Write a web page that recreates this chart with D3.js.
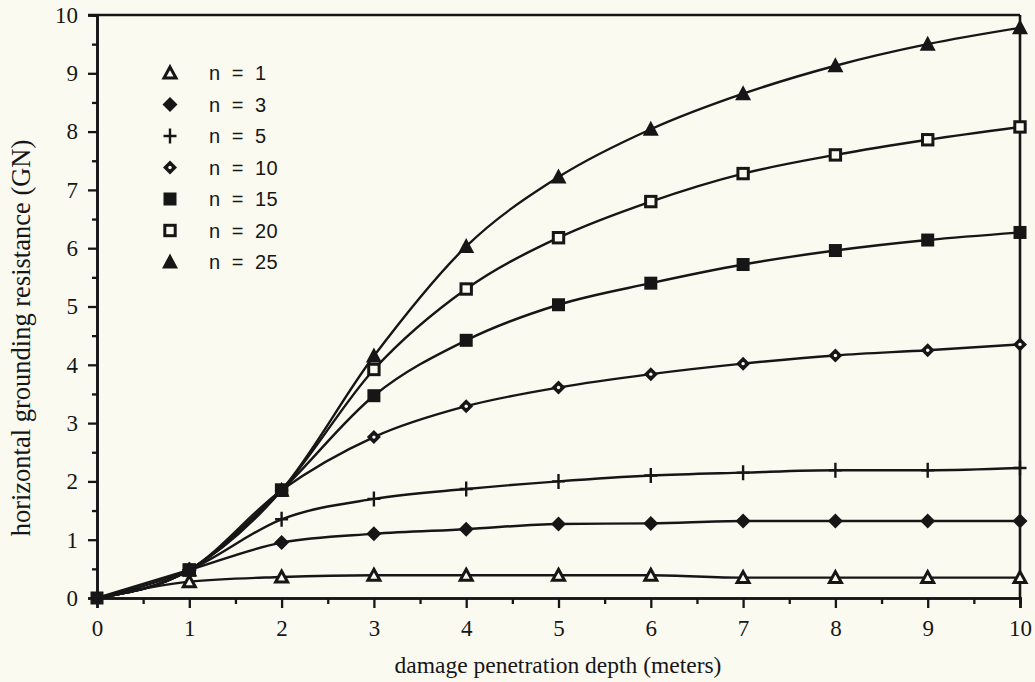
<!DOCTYPE html>
<html>
<head>
<meta charset="utf-8">
<script src="https://cdn.jsdelivr.net/npm/d3@7"></script>
<style>
  html, body { margin: 0; padding: 0; background: #fbfaf1; }
  svg { display: block; }
</style>
</head>
<body>
<svg id="chart" width="1035" height="682"></svg>
<script>
// Penetration depth (m) at which each resistance value was computed
const depth = [0, 1, 2, 3, 4, 5, 6, 7, 8, 9, 10];

// Horizontal grounding resistance (GN) for each value of n
const n1  = [0, 0.28, 0.36, 0.39, 0.39, 0.39, 0.39, 0.35, 0.35, 0.35, 0.35];
const n3  = [0, 0.48, 0.95, 1.10, 1.18, 1.27, 1.28, 1.32, 1.32, 1.32, 1.32];
const n5  = [0, 0.48, 1.35, 1.70, 1.87, 2.00, 2.10, 2.15, 2.19, 2.19, 2.23];
const n10 = [0, 0.48, 1.85, 2.76, 3.29, 3.61, 3.84, 4.02, 4.16, 4.25, 4.35];
const n15 = [0, 0.48, 1.85, 3.47, 4.42, 5.03, 5.40, 5.72, 5.96, 6.14, 6.27];
const n20 = [0, 0.48, 1.85, 3.92, 5.30, 6.18, 6.80, 7.28, 7.60, 7.86, 8.08];
const n25 = [0, 0.48, 1.85, 4.15, 6.03, 7.22, 8.04, 8.65, 9.13, 9.50, 9.78];

const seriesNames = ["n = 1", "n = 3", "n = 5", "n = 10", "n = 15", "n = 20", "n = 25"];
const seriesValues = [n1, n3, n5, n10, n15, n20, n25];
const seriesMarkers = ["openTriangle", "diamond", "plus", "dotDiamond", "square", "openSquare", "triangle"];
// Order in which marker sets are stacked (filled squares end on top)
const markerOrder = [0, 1, 2, 3, 5, 6, 4];

const xTicks = [0, 1, 2, 3, 4, 5, 6, 7, 8, 9, 10];
const yTicks = [0, 1, 2, 3, 4, 5, 6, 7, 8, 9, 10];

const xTitle = "damage penetration depth (meters)";
const yTitle = "horizontal grounding resistance (GN)";

const ink = "#161616";
const paper = "#fbfaf1";

const svg = d3.select("#chart");
const margin = { left: 97, right: 15, top: 15, bottom: 84 };
const W = 1035, H = 682;

const x = d3.scaleLinear().domain([0, 10]).range([margin.left, W - margin.right]);
const y = d3.scaleLinear().domain([0, 10]).range([H - margin.bottom, margin.top]);

// Frame: top and right borders
svg.append("line")
  .attr("x1", x(0) - 9).attr("x2", x(10))
  .attr("y1", y(10)).attr("y2", y(10))
  .attr("stroke", ink).attr("stroke-width", 2.6);
svg.append("line")
  .attr("x1", x(10)).attr("x2", x(10))
  .attr("y1", y(10)).attr("y2", y(0))
  .attr("stroke", ink).attr("stroke-width", 2.6);

// Axes with minor ticks at the half units
const serif = "'Liberation Serif', 'Times New Roman', serif";

const xMinor = d3.axisBottom(x).tickValues(d3.range(0.5, 10, 1)).tickSize(6).tickFormat("");
const xMajor = d3.axisBottom(x).tickValues(xTicks).tickSize(10).tickPadding(12).tickFormat(d3.format("d"));
const yMinor = d3.axisLeft(y).tickValues(d3.range(0.5, 10, 1)).tickSize(5).tickFormat("");
const yMajor = d3.axisLeft(y).tickValues(yTicks).tickSize(9).tickPadding(10).tickFormat(d3.format("d"));

function styleAxis(g) {
  g.select(".domain").attr("stroke", ink).attr("stroke-width", 2.6);
  g.selectAll(".tick line").attr("stroke", ink).attr("stroke-width", 2.3);
  g.selectAll(".tick text").attr("fill", ink)
    .style("font-family", serif).style("font-size", "23px");
}

svg.append("g").attr("transform", `translate(0,${y(0)})`).call(xMinor).call(styleAxis);
svg.append("g").attr("transform", `translate(0,${y(0)})`).call(xMajor).call(styleAxis);
svg.append("g").attr("transform", `translate(${x(0)},0)`).call(yMinor).call(styleAxis);
svg.append("g").attr("transform", `translate(${x(0)},0)`).call(yMajor).call(styleAxis);

// Axis titles
svg.append("text")
  .attr("x", 558).attr("y", 673)
  .attr("text-anchor", "middle")
  .style("font-family", serif).style("font-size", "23.5px")
  .attr("fill", ink)
  .text(xTitle);

svg.append("text")
  .attr("transform", `translate(30,338) rotate(-90)`)
  .attr("text-anchor", "middle")
  .style("font-family", serif).style("font-size", "26.5px")
  .attr("fill", ink)
  .text(yTitle);

// Marker shapes
function drawMarker(g, type, cx, cy) {
  const m = g.append("g").attr("transform", `translate(${cx},${cy})`);
  switch (type) {
    case "openTriangle":
      m.append("path").attr("d", "M0,-6 L6,5 L-6,5 Z")
        .attr("fill", paper).attr("stroke", ink).attr("stroke-width", 3).attr("stroke-linejoin", "miter");
      break;
    case "triangle":
      m.append("path").attr("d", "M0,-8.5 L8,6.5 L-8,6.5 Z").attr("fill", ink);
      break;
    case "diamond":
      m.append("path").attr("d", "M0,-7.5 L7.5,0 L0,7.5 L-7.5,0 Z").attr("fill", ink);
      break;
    case "dotDiamond":
      m.append("path").attr("d", "M0,-7 L7,0 L0,7 L-7,0 Z").attr("fill", ink);
      m.append("circle").attr("r", 1.7).attr("fill", paper);
      break;
    case "square":
      m.append("rect").attr("x", -6.5).attr("y", -6.5).attr("width", 13).attr("height", 13).attr("fill", ink);
      break;
    case "openSquare":
      m.append("rect").attr("x", -5.2).attr("y", -5.2).attr("width", 10.4).attr("height", 10.4)
        .attr("fill", paper).attr("stroke", ink).attr("stroke-width", 3);
      break;
    case "plus":
      m.append("path").attr("d", "M-6.5,0 L6.5,0 M0,-7.5 L0,7.5")
        .attr("stroke", ink).attr("stroke-width", 2.4);
      break;
  }
}

// Curves
const line = d3.line()
  .x((d, i) => x(depth[i]))
  .y(d => y(d))
  .curve(d3.curveMonotoneX);

const plot = svg.append("g");
seriesValues.forEach(vals => {
  plot.append("path")
    .attr("d", line(vals))
    .attr("fill", "none")
    .attr("stroke", ink)
    .attr("stroke-width", 2.4);
});

// Markers on each curve
markerOrder.forEach(s => {
  seriesValues[s].forEach((v, i) => {
    if (i === 0) return;
    drawMarker(plot, seriesMarkers[s], x(depth[i]), y(v));
  });
});
// Shared origin point
drawMarker(plot, "square", x(0), y(0));

// Legend
const legend = svg.append("g");
seriesNames.forEach((name, i) => {
  const ly = 73 + i * 31.5;
  drawMarker(legend, seriesMarkers[i], 170, ly);
  legend.append("text")
    .attr("x", 209).attr("y", ly)
    .attr("dy", "0.36em")
    .style("font-family", "'Liberation Sans', Arial, sans-serif")
    .style("font-size", "20px")
    .style("word-spacing", "5px")
    .style("letter-spacing", "0.5px")
    .attr("fill", ink)
    .text(name);
});
</script>
</body>
</html>
